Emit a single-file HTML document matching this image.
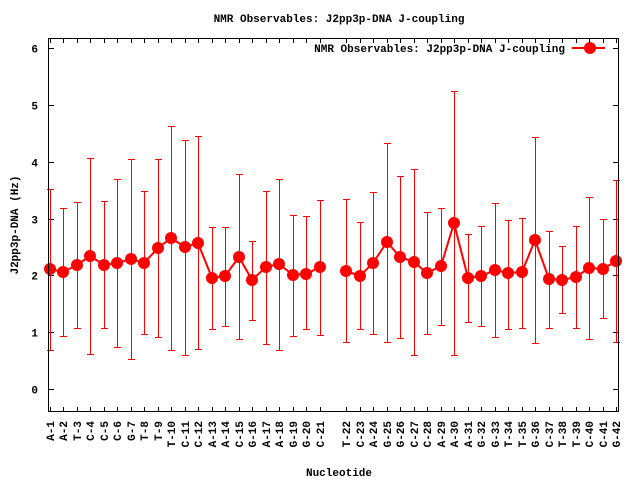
<!DOCTYPE html><html><head><style>body{margin:0;background:#fff}svg{display:block}text{font-family:"Liberation Mono",monospace;font-size:11px;font-weight:bold;fill:#000}</style></head><body>
<svg width="640" height="480" xmlns="http://www.w3.org/2000/svg" id="s">
<text x="339" y="22" text-anchor="middle">NMR Observables: J2pp3p-DNA J-coupling</text>
<text x="565" y="52" text-anchor="end">NMR Observables: J2pp3p-DNA J-coupling</text>
<line x1="572" y1="48" x2="605" y2="48" stroke="#f00" stroke-width="2"/><circle cx="590" cy="48" r="6" fill="#f00"/>
<text x="339" y="476" text-anchor="middle">Nucleotide</text>
<text transform="translate(18,225) rotate(-90)" text-anchor="middle">J2pp3p-DNA (Hz)</text>
<g id="ax"></g>
<rect x="48.5" y="38.5" width="570" height="373" fill="none" stroke="#000" stroke-width="1"/>
</svg>
<script>
var d=[[50,269,189,350],[63,272,208,336],[77,265,202,328],[90,256,158,354],[104,265,201,328],[117,263,179,347],[131,259,159,359],[144,263,191,334],[158,248,159,337],[171,238,126,350],[185,247,140,355],[198,243,136,349],[212,278,227,329],[225,276,227,326],[239,257,174,339],[252,280,241,320],[266,267,191,344],[279,264,179,350],[293,275,215,336],[306,274,216,329],[320,267,200,335],
[346,271,199,342],[360,276,222,329],[373,263,192,334],[387,242,143,342],[400,257,176,338],[414,262,169,355],[427,273,212,334],[441,266,208,325],[454,223,91,355],[468,278,234,322],[481,276,226,326],[495,270,203,337],[508,273,220,329],[522,272,218,328],[535,240,137,343],[549,279,231,328],[562,280,246,313],[576,277,226,328],[589,268,197,339],[603,269,219,318],[616,261,180,342]];
var L="A-1 A-2 T-3 C-4 C-5 C-6 G-7 T-8 T-9 T-10 C-11 C-12 A-13 A-14 C-15 G-16 A-17 A-18 G-19 G-20 C-21 T-22 C-23 A-24 G-25 G-26 C-27 C-28 A-29 A-30 A-31 G-32 G-33 T-34 T-35 G-36 C-37 T-38 T-39 C-40 C-41 G-42".split(" ");
var s="";
for(var v=0;v<=6;v++){var y=Math.round(389-56.8*v)+0.5;s+='<line x1="48" y1="'+y+'" x2="54" y2="'+y+'" stroke="#000"/><line x1="613" y1="'+y+'" x2="619" y2="'+y+'" stroke="#000"/><text x="38" y="'+(y+4)+'" text-anchor="end">'+v+'</text>';}
var p1="",p2="";
d.forEach(function(a,i){var x=a[0],xh=x+0.5;
s+='<line x1="'+xh+'" y1="412" x2="'+xh+'" y2="407" stroke="#000"/><line x1="'+xh+'" y1="38" x2="'+xh+'" y2="43" stroke="#000"/>';
s+='<text transform="translate('+(x+4)+',421) rotate(-90)" text-anchor="end">'+L[i]+'</text>';
s+='<g stroke="#f00" stroke-width="1" shape-rendering="crispEdges"><line x1="'+xh+'" y1="'+a[2]+'" x2="'+xh+'" y2="'+a[3]+'"/><line x1="'+(x-3)+'" y1="'+(a[2]+0.5)+'" x2="'+(x+4)+'" y2="'+(a[2]+0.5)+'"/><line x1="'+(x-3)+'" y1="'+(a[3]+0.5)+'" x2="'+(x+4)+'" y2="'+(a[3]+0.5)+'"/></g>';
if(i<21)p1+=x+','+a[1]+' ';else p2+=x+','+a[1]+' ';});
s+='<polyline points="'+p1+'" fill="none" stroke="#f00" stroke-width="2"/><polyline points="'+p2+'" fill="none" stroke="#f00" stroke-width="2"/>';
d.forEach(function(a){s+='<circle cx="'+a[0]+'" cy="'+a[1]+'" r="6" fill="#f00"/>';});
document.getElementById("ax").innerHTML=s;
</script></body></html>
